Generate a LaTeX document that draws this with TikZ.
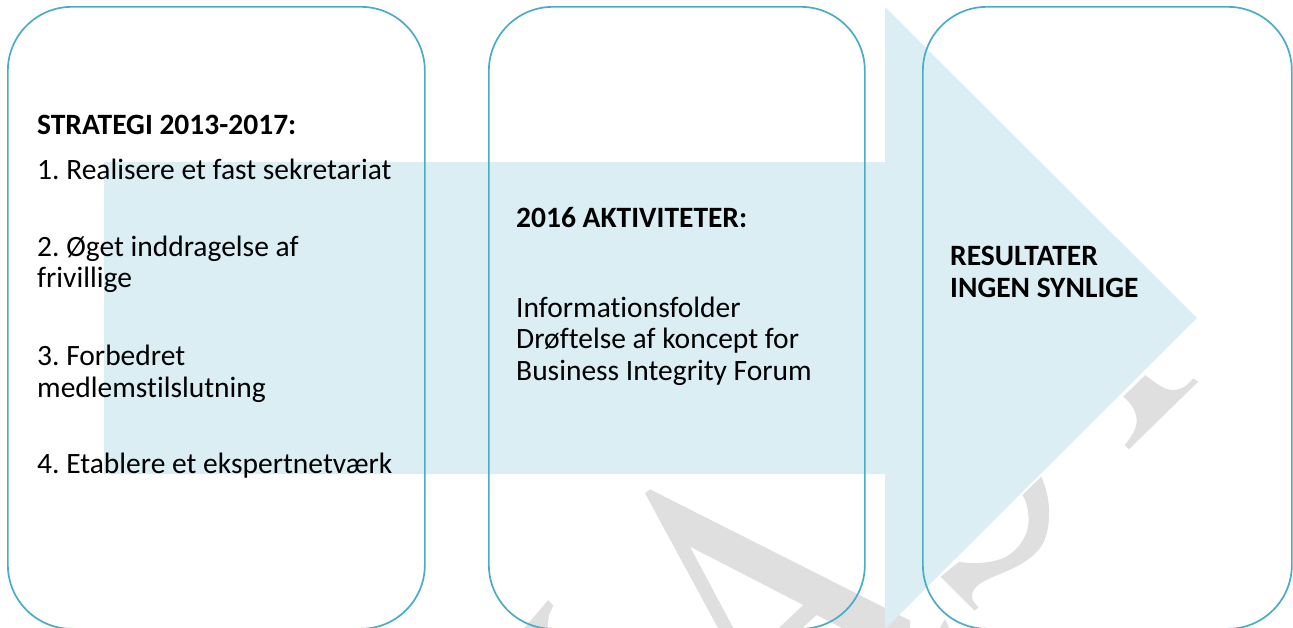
\documentclass[tikz,border=0pt]{standalone}
\usepackage{fontspec}
\setmainfont{Carlito}[Ligatures={NoCommon}]
\definecolor{boxline}{HTML}{4BACC6}
\definecolor{arrowfill}{HTML}{DAEEF3}
\definecolor{wmark}{HTML}{DFDFDF}
\frenchspacing
\begin{document}
\begin{tikzpicture}[x=1pt,y=-1pt,
  box/.style={draw=boxline, line width=1.7pt, rounded corners=64pt, anchor=north west, inner sep=0pt, fill=none},
  txt/.style={anchor=base west, inner sep=0pt, font=\fontsize{29.5}{33}\selectfont},
  ttl/.style={txt, font=\fontsize{29.5}{33}\selectfont\bfseries}]
\useasboundingbox (0,0) rectangle (1293,627);
\clip (0,0) rectangle (1293,627);
% watermark fragments
\fill[wmark] (645,493.3) -- (650,489.3) -- (910,620.5) -- (910,663) -- (816.7,615) -- (788.8,640) -- (766,640) -- (803.3,605) -- (690,546.7) -- (739.6,640) -- (724.5,640) -- cycle;
\fill[wmark] (548.3,600) -- (553.3,605.5) -- (549,615) -- (546,640) -- (514,640) -- cycle;
\fill[wmark] (1041.2,476.7) .. controls (1050,495) and (1052,520) .. (1044.6,540)
  .. controls (1038,556) and (1020,566) .. (1000,574)
  .. controls (985,580) and (972,586) .. (972,596)
  .. controls (972,601) and (976,605) .. (978.7,607.3) -- (974.6,610.7) -- (940.5,576.7) -- (959.2,561.7)
  .. controls (975,565) and (995,562) .. (1005.3,557.3)
  .. controls (1018,550) and (1030,535) .. (1028.5,516.7)
  .. controls (1028,508) and (1026,500) .. (1022.4,495) -- cycle;
\fill[wmark] (933,640) -- (945,619) -- (955,640) -- cycle;
\fill[wmark] (1145.3,375) .. controls (1155,383) and (1165,390) .. (1172.6,390)
  .. controls (1182,390) and (1189,384) .. (1193,378.3) -- (1198.2,381.7) -- (1128.9,449.3) -- (1124.8,445)
  .. controls (1132,436) and (1137,428) .. (1136.7,420)
  .. controls (1136,410) and (1130,402) .. (1123.1,396.7) -- cycle;
% big arrow
\fill[arrowfill] (104,162) -- (885,162) -- (885,7) -- (1197,318) -- (885,629) -- (885,474) -- (104,474) -- cycle;
% boxes
\node[box, minimum width=417pt, minimum height=622pt] (b1) at (7,6) {};
\node[box, minimum width=376pt, minimum height=622pt] (b2) at (488,6) {};
\node[box, minimum width=369pt, minimum height=622pt] (b3) at (922,6) {};
% texts box 1
\node[ttl] (t1) at (37,134) {STRATEGI 2013-2017:};
\node[txt] (t2) at (37,179) {1. Realisere et fast sekretariat};
\node[txt] (t3) at (37,256) {2. Øget inddragelse af};
\node[txt] (t4) at (37,287) {frivillige};
\node[txt] (t5) at (37,365) {3. Forbedret};
\node[txt] (t6) at (37,397) {medlemstilslutning};
\node[txt] (t7) at (37,473) {4. Etablere et ekspertnetværk};
% texts box 2
\node[ttl] (s1) at (516,227) {2016 AKTIVITETER:};
\node[txt] (s2) at (516,317) {Informationsfolder};
\node[txt] (s3) at (516,348) {Drøftelse af koncept for};
\node[txt] (s4) at (516,380) {Business Integrity Forum};
% texts box 3
\node[ttl] (r1) at (950,265) {RESULTATER};
\node[ttl] (r2) at (950,297) {INGEN SYNLIGE};
\end{tikzpicture}
\end{document}
